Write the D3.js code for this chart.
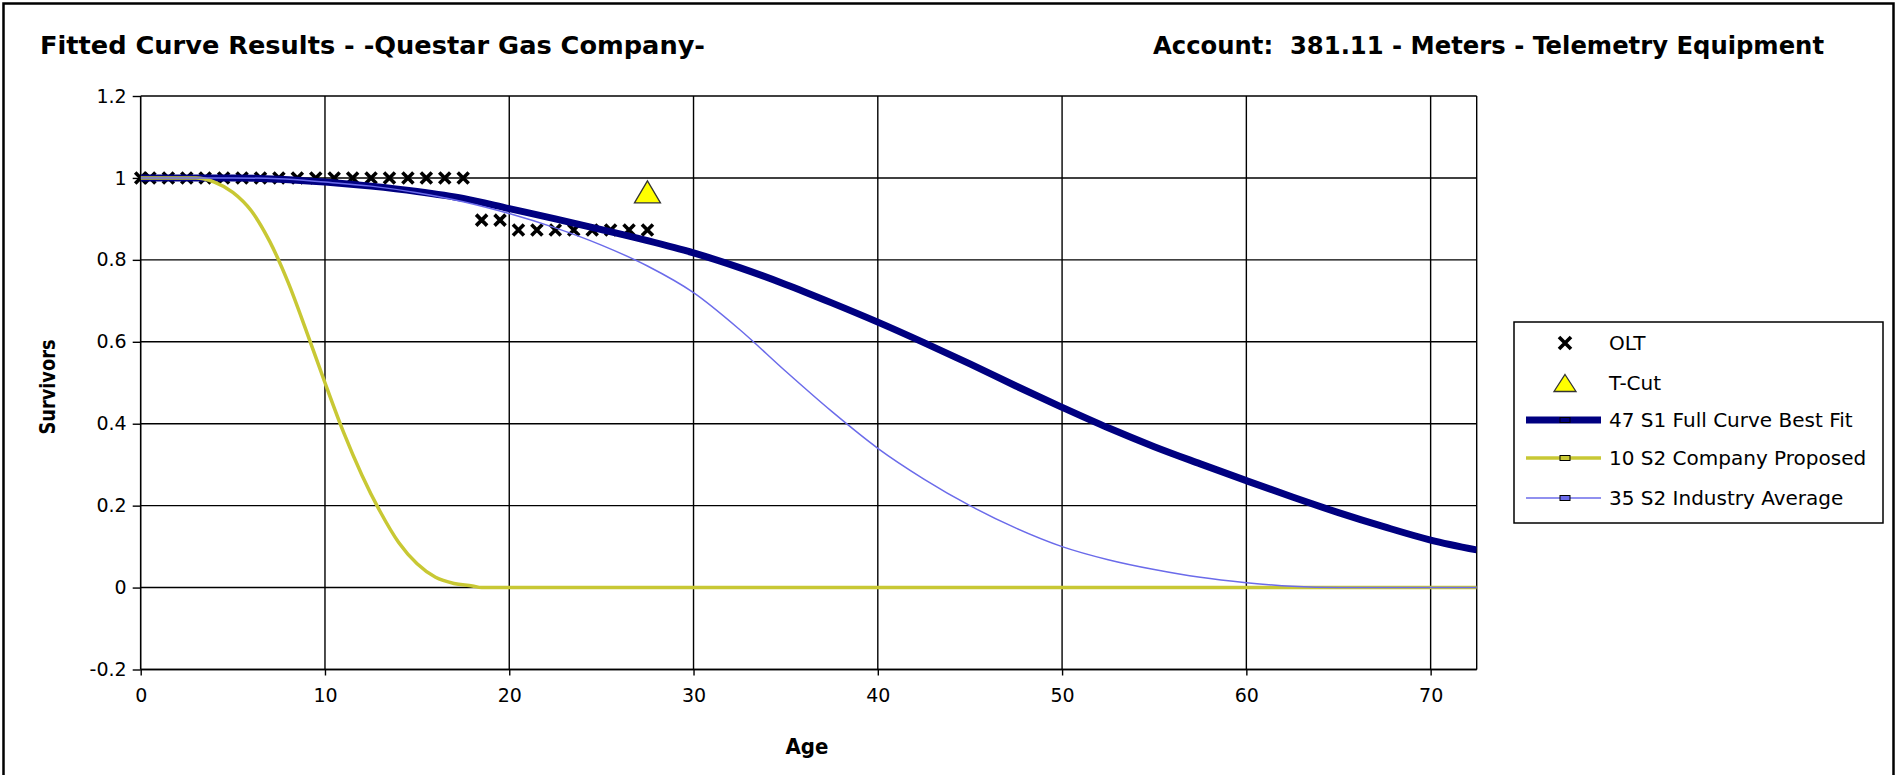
<!DOCTYPE html>
<html>
<head>
<meta charset="utf-8">
<script src="https://cdn.jsdelivr.net/npm/d3@7/dist/d3.min.js"></script>
<style>
  html, body { margin: 0; padding: 0; background: #fff; }
  svg { display: block; }
  text { white-space: pre; }
</style>
</head>
<body>
<svg id="chart" width="1897" height="775"></svg>
<script>
// ---------------- DATA ----------------
const titleLeft = "Fitted Curve Results - -Questar Gas Company-";
const titleRight = "Account:  381.11 - Meters - Telemetry Equipment";
const xLabel = "Age";
const yLabel = "Survivors";

const xTicks = [0, 10, 20, 30, 40, 50, 60, 70];
const xTickLabels = ["0", "10", "20", "30", "40", "50", "60", "70"];
const yTicks = [-0.2, 0, 0.2, 0.4, 0.6, 0.8, 1.0, 1.2];
const yTickLabels = ["-0.2", "0", "0.2", "0.4", "0.6", "0.8", "1", "1.2"];

const seriesNames = ["OLT", "T-Cut", "47 S1 Full Curve Best Fit", "10 S2 Company Proposed", "35 S2 Industry Average"];

// OLT observed life table points
const oltAges = [0, 0.5, 1.5, 2.5, 3.5, 4.5, 5.5, 6.5, 7.5, 8.5, 9.5, 10.5, 11.5, 12.5, 13.5, 14.5, 15.5, 16.5, 17.5,
                 18.5, 19.5, 20.5, 21.5, 22.5, 23.5, 24.5, 25.5, 26.5, 27.5];
const oltValues = [1, 1, 1, 1, 1, 1, 1, 1, 1, 1, 1, 1, 1, 1, 1, 1, 1, 1, 1,
                   0.897, 0.897, 0.873, 0.873, 0.873, 0.873, 0.873, 0.873, 0.873, 0.873];

// T-Cut point
const tcutAges = [27.5];
const tcutValues = [0.966];

// 47 S1 Full Curve Best Fit
const s1Ages = [0, 2.5, 5, 7.5, 10, 12.5, 15, 17.5, 20, 22.5, 25, 27.5, 30, 32.5, 35, 37.5, 40, 42.5, 45, 47.5,
                50, 52.5, 55, 57.5, 60, 62.5, 65, 67.5, 70, 72.5];
const s1Values = [1, 1, 1, 0.997, 0.99, 0.98, 0.967, 0.95, 0.925, 0.9, 0.874, 0.847, 0.817, 0.781, 0.74, 0.695,
                  0.648, 0.598, 0.546, 0.492, 0.44, 0.39, 0.344, 0.302, 0.261, 0.221, 0.183, 0.148, 0.116, 0.092];

// 10 S2 Company Proposed
const companyAges = [0, 1, 2, 3, 4, 5, 6, 7, 8, 9, 10, 11, 12, 13, 14, 15, 16, 17, 18, 18.5, 72.5];
const companyValues = [1, 1, 1, 1, 0.99, 0.965, 0.92, 0.845, 0.745, 0.625, 0.5, 0.38, 0.275, 0.185, 0.11, 0.058,
                       0.025, 0.01, 0.004, 0, 0];

// 35 S2 Industry Average
const industryAges = [0, 2.5, 5, 7.5, 10, 12.5, 15, 17.5, 20, 22.5, 25, 27.5, 30, 32.5, 35, 37.5, 40, 42.5, 45, 47.5,
                      50, 52.5, 55, 57.5, 60, 62.5, 65, 67.5, 70, 72.5];
const industryValues = [1, 1, 1, 0.998, 0.99, 0.98, 0.964, 0.942, 0.913, 0.878, 0.836, 0.785, 0.72, 0.63, 0.528, 0.43,
                        0.34, 0.265, 0.2, 0.145, 0.1, 0.068, 0.044, 0.025, 0.012, 0.003, 0, 0, 0, 0];

// ---------------- LAYOUT ----------------
const svg = d3.select("#chart");
const plotLeft = 140.7, plotRight = 1476.7, plotTop = 96, plotBottom = 669.5;

const x = d3.scaleLinear().domain([0, 72.5]).range([plotLeft, plotRight]);
const y = d3.scaleLinear().domain([-0.2, 1.2]).range([plotBottom, plotTop]);

const colThick = "#000080", colYellow = "#c8c834", colThin = "#6b6bea";
const tickFont = "'DejaVu Sans', 'Liberation Sans', Arial, sans-serif";
const boldFont = "'Liberation Sans Narrow', 'DejaVu Sans Condensed', 'Liberation Sans', Arial, sans-serif";

// outer frame
svg.append("rect").attr("x", 3.5).attr("y", 3.5).attr("width", 1890).attr("height", 800)
  .attr("fill", "none").attr("stroke", "#000").attr("stroke-width", 2.5);

// titles
svg.append("text").attr("x", 40).attr("y", 54).text(titleLeft)
  .attr("font-family", boldFont).attr("font-weight", "bold").attr("font-size", 25)
  .attr("textLength", 665).attr("lengthAdjust", "spacingAndGlyphs");
svg.append("text").attr("x", 1824).attr("y", 54).attr("text-anchor", "end").text(titleRight)
  .attr("font-family", boldFont).attr("font-weight", "bold").attr("font-size", 25)
  .attr("textLength", 671).attr("lengthAdjust", "spacingAndGlyphs");

// gridlines
const grid = svg.append("g");
grid.selectAll("line.h").data(yTicks).enter().append("line")
  .attr("x1", plotLeft).attr("x2", plotRight)
  .attr("y1", d => y(d)).attr("y2", d => y(d))
  .attr("stroke", "#000").attr("stroke-width", 1.4);
grid.selectAll("line.v").data(xTicks.filter(d => d > 0)).enter().append("line")
  .attr("y1", plotTop).attr("y2", plotBottom)
  .attr("x1", d => x(d)).attr("x2", d => x(d))
  .attr("stroke", "#000").attr("stroke-width", 1.4);
grid.append("line").attr("x1", plotRight).attr("x2", plotRight).attr("y1", plotTop).attr("y2", plotBottom)
  .attr("stroke", "#000").attr("stroke-width", 1.4);

// axes
const yAxis = d3.axisLeft(y).tickValues(yTicks).tickSize(8).tickPadding(6)
  .tickFormat((d, i) => yTickLabels[i]);
const gy = svg.append("g").attr("transform", `translate(${plotLeft},0)`).call(yAxis);
const xAxis = d3.axisBottom(x).tickValues(xTicks).tickSize(6).tickPadding(13)
  .tickFormat((d, i) => xTickLabels[i]);
const gx = svg.append("g").attr("transform", `translate(0,${plotBottom})`).call(xAxis);
[gx, gy].forEach(g => {
  g.select(".domain").attr("stroke", "#000").attr("stroke-width", 1.6);
  g.selectAll(".tick line").attr("stroke", "#000").attr("stroke-width", 1.4);
  g.selectAll(".tick text").attr("font-family", tickFont).attr("font-size", 19).attr("fill", "#000");
});
gx.select(".domain").attr("d", `M${plotLeft},0H${plotRight}`);
gy.select(".domain").attr("d", `M0,${plotTop}V${plotBottom}`);

// axis titles
svg.append("text").attr("x", 807).attr("y", 754).attr("text-anchor", "middle").text(xLabel)
  .attr("font-family", boldFont).attr("font-weight", "bold").attr("font-size", 22);
svg.append("text").attr("transform", "translate(55,387) rotate(-90)").attr("text-anchor", "middle").text(yLabel)
  .attr("font-family", boldFont).attr("font-weight", "bold").attr("font-size", 22)
  .attr("textLength", 95).attr("lengthAdjust", "spacingAndGlyphs");

// clip
svg.append("clipPath").attr("id", "plotclip").append("rect")
  .attr("x", plotLeft).attr("y", plotTop - 20).attr("width", plotRight - plotLeft).attr("height", plotBottom - plotTop + 20);

const plot = svg.append("g");

function xPath(cx, cy, s) {
  return `M${cx - s},${cy - s}L${cx + s},${cy + s}M${cx - s},${cy + s}L${cx + s},${cy - s}`;
}
function triPath(cx, cy, w, h) {
  return `M${cx},${cy - h / 2}L${cx + w / 2},${cy + h / 2}L${cx - w / 2},${cy + h / 2}Z`;
}

// OLT marks
plot.selectAll("path.olt").data(oltAges.map((a, i) => [a, oltValues[i]])).enter().append("path")
  .attr("d", d => xPath(x(d[0]), y(d[1]), 5.5))
  .attr("stroke", "#000").attr("stroke-width", 3.6).attr("fill", "none");

// T-cut triangle
plot.selectAll("path.tcut").data(tcutAges.map((a, i) => [a, tcutValues[i]])).enter().append("path")
  .attr("d", d => triPath(x(d[0]), y(d[1]), 26, 22))
  .attr("fill", "#ffff00").attr("stroke", "#333").attr("stroke-width", 1.3);

const line = d3.line().x(d => x(d[0])).y(d => y(d[1])).curve(d3.curveMonotoneX);
const lines = plot.append("g").attr("clip-path", "url(#plotclip)");
lines.append("path").datum(s1Ages.map((a, i) => [a, s1Values[i]]))
  .attr("d", line).attr("fill", "none").attr("stroke", colThick).attr("stroke-width", 7);
lines.append("path").datum(companyAges.map((a, i) => [a, companyValues[i]]))
  .attr("d", line).attr("fill", "none").attr("stroke", colYellow).attr("stroke-width", 3.5);
lines.append("path").datum(industryAges.map((a, i) => [a, industryValues[i]]))
  .attr("d", line).attr("fill", "none").attr("stroke", colThin).attr("stroke-width", 1.5);

// legend
const lg = svg.append("g");
lg.append("rect").attr("x", 1514).attr("y", 322).attr("width", 369).attr("height", 201)
  .attr("fill", "#fff").attr("stroke", "#000").attr("stroke-width", 1.5);
const rowY = [343, 383, 420, 458, 498];
const symX = 1565, textX = 1609;
lg.append("path").attr("d", xPath(symX, rowY[0], 6)).attr("stroke", "#000").attr("stroke-width", 3.6);
lg.append("path").attr("d", triPath(symX, rowY[1], 22, 17)).attr("fill", "#ffff00").attr("stroke", "#333").attr("stroke-width", 1.3);
const legLines = [[colThick, 7], [colYellow, 3.5], [colThin, 1.5]];
legLines.forEach((c, i) => {
  const yy = rowY[i + 2];
  lg.append("line").attr("x1", 1526).attr("x2", 1601).attr("y1", yy).attr("y2", yy)
    .attr("stroke", c[0]).attr("stroke-width", c[1]);
  lg.append("rect").attr("x", symX - 5).attr("y", yy - 2.5).attr("width", 10).attr("height", 5)
    .attr("fill", c[0]).attr("stroke", "#000").attr("stroke-width", 1);
});
seriesNames.forEach((n, i) => {
  lg.append("text").attr("x", textX).attr("y", rowY[i]).attr("dy", "0.36em").text(n)
    .attr("font-family", tickFont).attr("font-size", 20).attr("fill", "#000");
});
</script>
</body>
</html>
